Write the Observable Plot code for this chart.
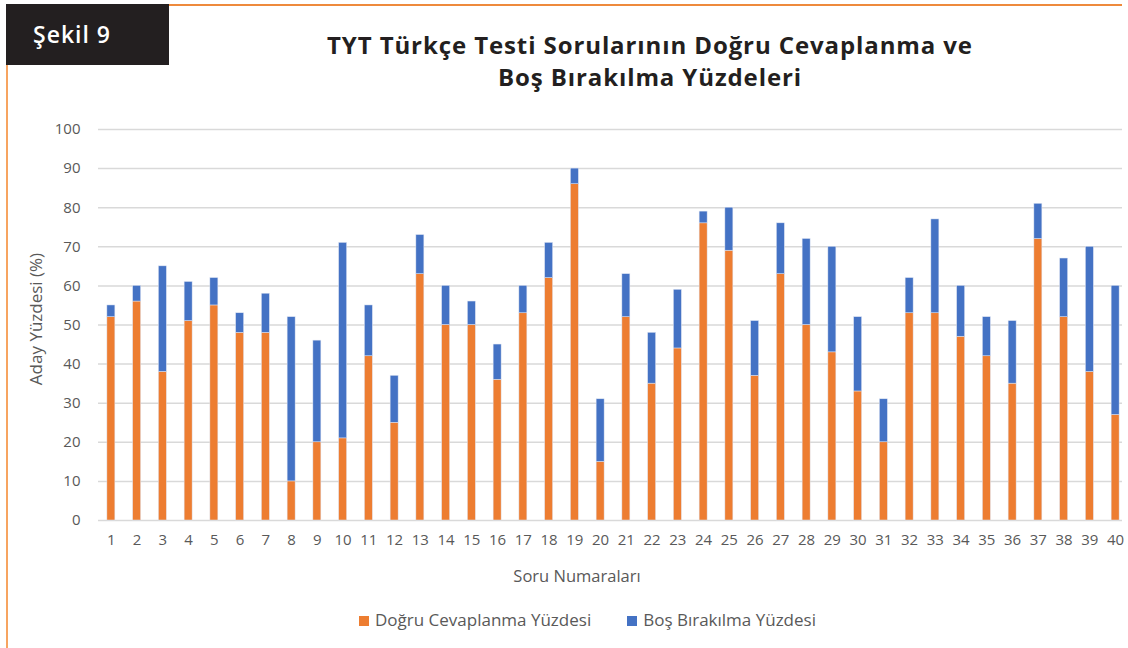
<!DOCTYPE html>
<html>
<head>
<meta charset="utf-8">
<script src="https://cdn.jsdelivr.net/npm/d3@7"></script>
<script src="https://cdn.jsdelivr.net/npm/@observablehq/plot@0.6"></script>
<style>
  html, body { margin: 0; padding: 0; background: #fff; }
  #wrap { position: relative; width: 1128px; height: 648px; overflow: hidden; font-family: "Open Sans", sans-serif; }
  #chart { position: absolute; left: 0; top: 0; }
  .box { position: absolute; left: 6px; top: 4px; width: 163px; height: 61px; background: #231f20; color: #fff;
         font-family: "Open Sans", sans-serif; font-weight: 600; font-size: 23px; letter-spacing: 1px; line-height: 61px; box-sizing: border-box; padding-left: 27px; }
  .topline { position: absolute; left: 169px; top: 4px; width: 953px; height: 2px; background: #ee8a3c; }
  .leftline { position: absolute; left: 6px; top: 65px; width: 2px; height: 583px; background: #f7a460; }
  .title { position: absolute; left: 250px; width: 800px; top: 29px; text-align: center; font-family: "Open Sans", sans-serif;
           font-weight: 700; font-size: 24px; letter-spacing: 0.9px; line-height: 32px; color: #231f20; }
  .ylab { position: absolute; left: 35px; top: 319px; transform: translate(-50%, -50%) rotate(-90deg); font-size: 17px; color: #595959; white-space: nowrap; font-family: "Open Sans", sans-serif; }
  .xlab { position: absolute; left: 577px; top: 575px; transform: translate(-50%, -50%); font-size: 16.5px; color: #595959; white-space: nowrap; font-family: "Open Sans", sans-serif; }
  .legend { position: absolute; top: 608px; left: 359px; font-size: 17px; color: #595959; white-space: nowrap; font-family: "Open Sans", sans-serif; }
  .legend span.sw { display: inline-block; width: 10px; height: 10px; margin-right: 6px; vertical-align: 0px; }
  .legend .item { display: inline-block; margin-right: 36px; }
</style>
</head>
<body>
<div id="wrap">
  <div id="chart"></div>
  <div class="topline"></div>
  <div class="leftline"></div>
  <div class="box">Şekil 9</div>
  <div class="title">TYT Türkçe Testi Sorularının Doğru Cevaplanma ve<br>Boş Bırakılma Yüzdeleri</div>
  <div class="ylab">Aday Yüzdesi (%)</div>
  <div class="xlab">Soru Numaraları</div>
  <div class="legend" id="legend"></div>
</div>
<script>
const questions = d3.range(1, 41);
const seriesNames = ["Doğru Cevaplanma Yüzdesi", "Boş Bırakılma Yüzdesi"];
const seriesColors = ["#ED7D31", "#4472C4"];
const correct = [52,56,38,51,55,48,48,10,20,21,42,25,63,50,50,36,53,62,86,15,52,35,44,76,69,37,63,50,43,33,20,53,53,47,42,35,72,52,38,27];
const blank   = [3,4,27,10,7,5,10,42,26,50,13,12,10,10,6,9,7,9,4,16,11,13,15,3,11,14,13,22,27,19,11,9,24,13,10,16,9,15,32,33];
const yTicks = d3.range(0, 101, 10);

const data = [];
questions.forEach((q, i) => {
  data.push({q, series: seriesNames[0], v: correct[i]});
  data.push({q, series: seriesNames[1], v: blank[i]});
});

const chart = Plot.plot({
  width: 1128,
  height: 648,
  marginLeft: 98,
  marginRight: 0,
  marginTop: 129,
  marginBottom: 128,
  style: {fontFamily: "'Open Sans', sans-serif", fontSize: "15px", color: "#595959", background: "transparent"},
  x: {type: "band", domain: questions, paddingInner: 0.69, paddingOuter: 0.345, round: false, label: null},
  y: {domain: [0, 100], ticks: yTicks, label: null},
  color: {domain: seriesNames, range: seriesColors},
  marks: [
    Plot.ruleY(yTicks, {stroke: "#d9d9d9", strokeWidth: 1.5, strokeOpacity: 1, insetRight: 6}),
    Plot.barY(data, Plot.stackY({x: "q", y: "v", fill: "series", order: seriesNames, stroke: "#dfe6f3", strokeWidth: 0.5})),
    Plot.axisX({tickSize: 0, tickPadding: 14, fontSize: 15}),
    Plot.axisY({ticks: yTicks, tickSize: 0, tickPadding: 18, fontSize: 15})
  ]
});
document.getElementById("chart").appendChild(chart);

const legend = document.getElementById("legend");
seriesNames.forEach((name, i) => {
  const item = document.createElement("span");
  item.className = "item";
  const sw = document.createElement("span");
  sw.className = "sw";
  sw.style.background = seriesColors[i];
  item.appendChild(sw);
  item.appendChild(document.createTextNode(name));
  legend.appendChild(item);
});
</script>
</body>
</html>
